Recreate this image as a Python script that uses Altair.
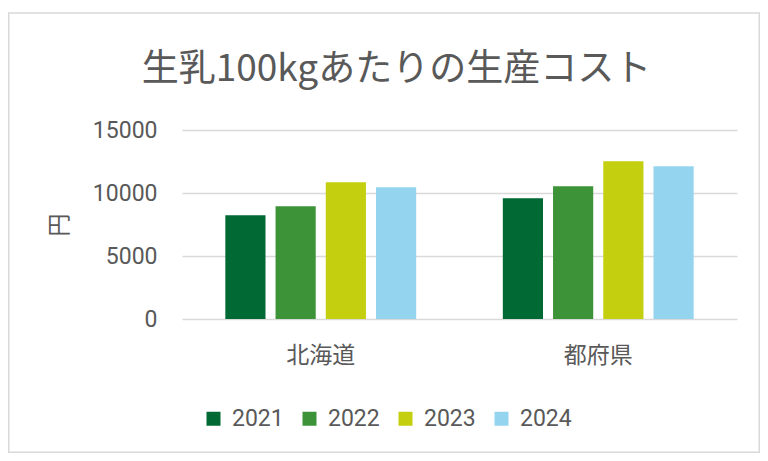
import altair as alt
import pandas as pd

regions = ["北海道", "都府県"]
years = ["2021", "2022", "2023", "2024"]
hokkaido = [8230, 8940, 10850, 10450]
tofuken = [9580, 10530, 12520, 12120]
colors = ["#006934", "#3d9337", "#c4cf0f", "#95d4ee"]
y_ticks = [0, 5000, 10000, 15000]

rows = []
for r, vals in zip(regions, [hokkaido, tofuken]):
    for yr, v in zip(years, vals):
        rows.append({"region": r, "year": yr, "cost": v})
df = pd.DataFrame(rows)

FONT = "Roboto, Noto Sans CJK JP, sans-serif"
CJK = "Noto Sans CJK JP"
TXT = "#595959"
GRID = "#d9d9d9"

W, H = 555, 189
PL, PT, PR, PB = 174, 122, 23, 134

bars = alt.Chart(df).mark_bar().encode(
    x=alt.X(
        "region:N", sort=regions,
        scale=alt.Scale(paddingInner=0.276, paddingOuter=0.138),
        axis=alt.Axis(title=None, labelAngle=0, domain=False, ticks=False, grid=False,
                      labelFontSize=23, labelColor=TXT, labelFont=CJK,
                      labelPadding=25, labelBaseline="top"),
    ),
    xOffset=alt.XOffset("year:N", sort=years,
                        scale=alt.Scale(paddingInner=0.2, paddingOuter=0.1)),
    y=alt.Y(
        "cost:Q",
        scale=alt.Scale(domain=[0, 15000]),
        axis=alt.Axis(values=y_ticks, format="d", title="円", domain=False, ticks=False,
                      grid=True, gridColor=GRID, gridWidth=1.5,
                      labelFontSize=23, labelColor=TXT, labelFont=FONT, labelPadding=25,
                      titleFontSize=23, titleColor=TXT, titleFont=CJK, titleFontWeight="normal",
                      titleX=-111, titleY=94.5, titleAlign="center", titleBaseline="bottom"),
    ),
    color=alt.Color(
        "year:N", sort=years,
        scale=alt.Scale(domain=years, range=colors),
        legend=alt.Legend(title=None, orient="none", legendX=20, legendY=277,
                          direction="horizontal", symbolType="square", symbolSize=196,
                          symbolStrokeWidth=0, labelFontSize=23, labelColor=TXT,
                          labelFont=FONT, labelOffset=7, columnPadding=14, padding=0),
    ),
)

border = alt.Chart(alt.Data(values=[{"k": 1}])).mark_rect(
    fillOpacity=0, stroke=GRID, strokeWidth=1.5
).encode(
    x=alt.value(-PL + 0.75), x2=alt.value(W + PR - 0.75),
    y=alt.value(-PT + 5), y2=alt.value(H + PB - 0.75),
)

chart = alt.layer(border, bars).properties(
    width=W, height=H,
    padding={"left": PL, "top": PT, "right": PR, "bottom": PB},
    autosize=alt.AutoSizeParams(type="none"),
    title=alt.TitleParams("生乳100kgあたりの生産コスト", font=CJK, fontSize=37,
                          fontWeight="normal", color=TXT, anchor="middle",
                          frame="group", dx=-63, offset=-77),
    background="white",
).configure_view(strokeWidth=0)

chart.save("out.html", embed_options={"renderer": "svg", "actions": False})
